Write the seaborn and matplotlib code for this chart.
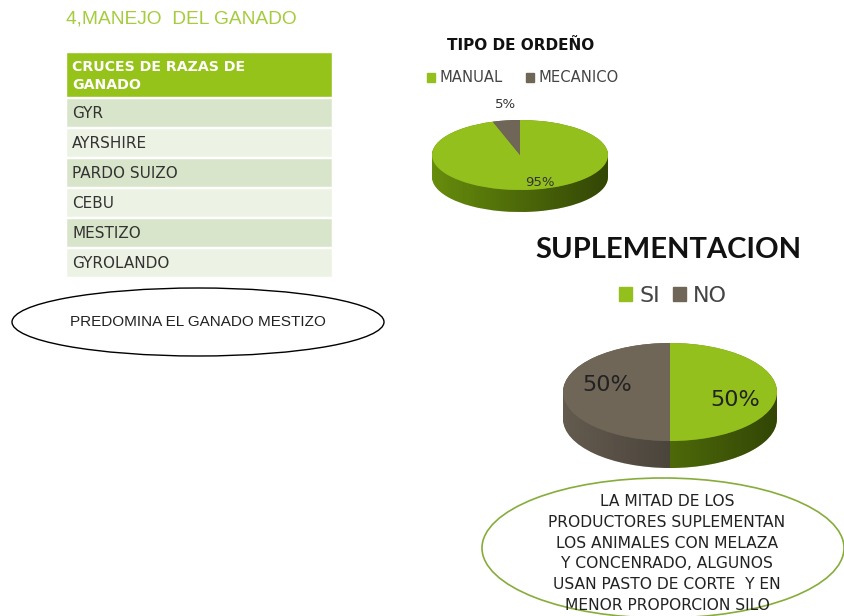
import numpy as np
import seaborn as sns
import matplotlib.pyplot as plt
from matplotlib.patches import Rectangle, Ellipse, Patch, Polygon
from matplotlib.colors import LinearSegmentedColormap

# data
breeds = ["GYR", "AYRSHIRE", "PARDO SUIZO", "CEBU", "MESTIZO", "GYROLANDO"]
ordeno_labels = ["MANUAL", "MECANICO"]
ordeno_values = [95, 5]
suple_labels = ["SI", "NO"]
suple_values = [50, 50]

GREEN = "#93c01c"
GREEN_SIDE = "#668c0c"
GRAY = "#6f6658"
GRAY_SIDE = "#645b4f"

sns.set_theme(style="white")
plt.rcParams["font.family"] = ["DejaVu Sans"]

W, H = 844, 616
fig = plt.figure(figsize=(W / 100, H / 100), dpi=100)
fig.patch.set_facecolor("white")

ax = fig.add_axes([0, 0, 1, 1])
ax.set_xlim(0, W)
ax.set_ylim(H, 0)
ax.axis("off")

# slide title
ax.text(66, 19, "4,MANEJO  DEL GANADO", color="#a4cc3c", fontsize=13.8,
        family="Liberation Sans", va="center", ha="left")

# table
tx, tw = 66, 266
ax.add_patch(Rectangle((tx, 52), tw, 45, facecolor="#96c31a", edgecolor="white", lw=1))
ax.text(72, 76, "CRUCES DE RAZAS DE\nGANADO", color="white", fontsize=10.2,
        fontweight="bold", va="center", ha="left", linespacing=1.4)
for i, name in enumerate(breeds):
    y0 = 98 + i * 30
    fc = "#d9e5ca" if i % 2 == 0 else "#edf3e4"
    ax.add_patch(Rectangle((tx, y0), tw, 29, facecolor=fc, edgecolor="white", lw=1))
    ax.text(72, y0 + 15, name, color="#333333", fontsize=11, va="center", ha="left")

# note ellipse 1
ax.add_patch(Ellipse((198, 322), 372, 68, facecolor="none", edgecolor="black", lw=1))
ax.text(198, 322, "PREDOMINA EL GANADO MESTIZO", fontsize=11, family="Liberation Sans",
        color="#222222", ha="center", va="center")

# note ellipse 2
ax.add_patch(Ellipse((663, 548), 362, 140, facecolor="none", edgecolor="#86ad3a", lw=1.2))
note = ["LA MITAD DE LOS", "PRODUCTORES SUPLEMENTAN", "LOS ANIMALES CON MELAZA",
        "Y CONCENRADO, ALGUNOS", "USAN PASTO DE CORTE  Y EN", "MENOR PROPORCION SILO"]
for i, line in enumerate(note):
    ax.text(667, 502 + i * 20.6, line, fontsize=11.2, color="#222222",
            ha="center", va="center")

shade = LinearSegmentedColormap.from_list("shade", [(0, 0, 0, 0.0), (0, 0, 0, 0.5)])


def pie3d(cx, cy, rx, ry, depth, values, tops, sides):
    # axes sized in pixels so the pie becomes an ellipse
    d = depth / ry
    pax = fig.add_axes([(cx - rx) / W, 1 - (cy + ry + depth) / H,
                        2 * rx / W, (2 * ry + depth) / H])
    for k in np.linspace(-d, 0, 25):
        pax.pie(values, colors=sides, startangle=90, counterclock=False,
                center=(0, k), radius=1, wedgeprops=dict(linewidth=0))
    # darken the side from left to right
    xs = np.linspace(-1, 1, 200)
    edge = -np.sqrt(1 - xs ** 2)
    side = Polygon(np.r_[np.c_[xs, edge], np.c_[xs[::-1], edge[::-1] - d]],
                   closed=True, facecolor="none", edgecolor="none")
    pax.add_patch(side)
    img = pax.imshow(np.linspace(0, 1, 100)[None, :], cmap=shade, aspect="auto",
                     extent=[-1, 1, -1 - d, 0], zorder=5)
    img.set_clip_path(side)
    top = pax.pie(values, colors=tops, startangle=90, counterclock=False,
                  center=(0, 0), radius=1, wedgeprops=dict(linewidth=0))
    for w in top[0]:
        w.set_zorder(6)
    pax.set_aspect("auto")
    pax.set_xlim(-1, 1)
    pax.set_ylim(-1 - d, 1)
    pax.axis("off")
    pax.patch.set_alpha(0)
    return pax


# pie 1: tipo de ordeño
ax.text(521, 45, "TIPO DE ORDEÑO", fontsize=11, fontweight="bold",
        color="#111111", ha="center", va="center")
p1 = pie3d(520, 155, 88, 35, 22, ordeno_values, [GREEN, GRAY], [GREEN_SIDE, GRAY_SIDE])
p1.text(-0.16, 1.43, f"{ordeno_values[1]}%", fontsize=9.5, ha="center", va="center",
        color="#333333", zorder=10)
p1.text(0.23, -0.8, f"{ordeno_values[0]}%", fontsize=9.5, ha="center", va="center",
        color="#333333", zorder=10)
ax.legend(handles=[Patch(color=GREEN, label=ordeno_labels[0]),
                   Patch(color=GRAY, label=ordeno_labels[1])],
          loc="center", bbox_to_anchor=(523 / W, 1 - 78 / H), bbox_transform=fig.transFigure,
          ncol=2, frameon=False, fontsize=10.6, handlelength=0.55, handleheight=0.55,
          handletextpad=0.3, columnspacing=1.6, labelcolor="#444444")

# pie 2: suplementacion
fig.text(668 / W, 1 - 250 / H, "SUPLEMENTACION", fontsize=21, fontweight="bold",
         family="Lato", color="#111111", ha="center", va="center")
p2 = pie3d(670, 392, 107, 49, 27, suple_values, [GREEN, GRAY], [GREEN_SIDE, GRAY_SIDE])
p2.text(-0.59, 0.14, f"{suple_values[1]}%", fontsize=16, ha="center", va="center",
        color="#222222", zorder=10)
p2.text(0.61, -0.16, f"{suple_values[0]}%", fontsize=16, ha="center", va="center",
        color="#222222", zorder=10)
fig.legend(handles=[Patch(color=GREEN, label=suple_labels[0]),
                    Patch(color=GRAY, label=suple_labels[1])],
           loc="center", bbox_to_anchor=(673 / W, 1 - 296 / H),
           ncol=2, frameon=False, fontsize=16, handlelength=0.6, handleheight=0.6,
           handletextpad=0.3, columnspacing=0.6, labelcolor="#444444")

fig.savefig("out.png", dpi=100)
